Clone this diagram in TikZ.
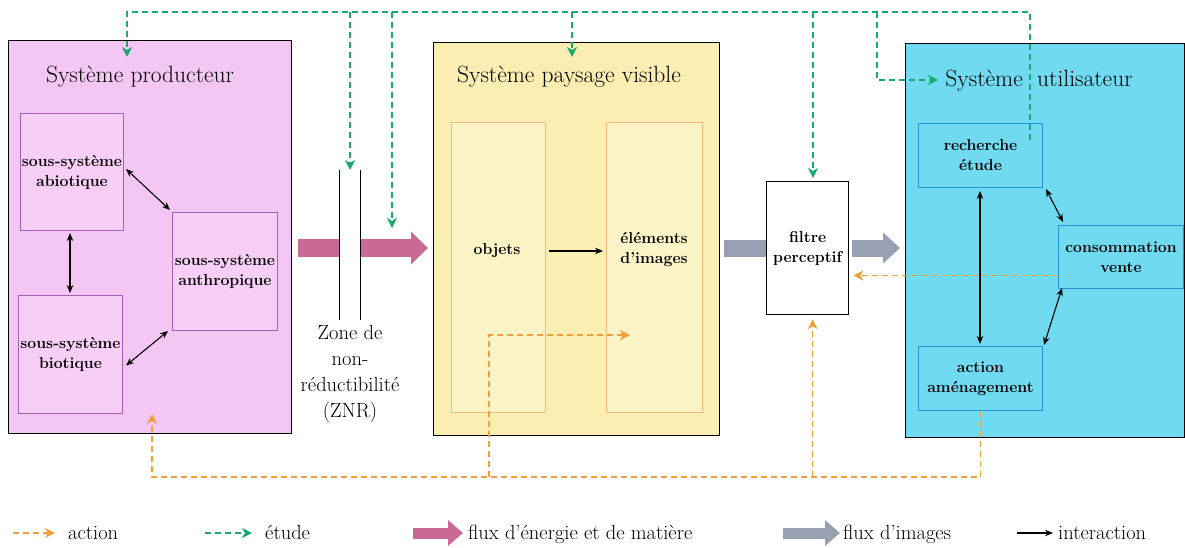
\documentclass[tikz,border=0pt]{standalone}
\usepackage{fontspec}
\usetikzlibrary{arrows.meta,calc}

\definecolor{prodfill}{RGB}{244,198,244}
\definecolor{prodinner}{RGB}{246,206,246}
\definecolor{prodline}{RGB}{165,95,185}
\definecolor{paysfill}{RGB}{251,238,178}
\definecolor{paysinner}{RGB}{252,243,198}
\definecolor{paysline}{RGB}{244,188,120}
\definecolor{utilfill}{RGB}{112,218,240}
\definecolor{utilline}{RGB}{35,150,210}
\definecolor{etudecol}{RGB}{25,170,110}
\definecolor{actioncol}{RGB}{240,160,60}
\definecolor{energycol}{RGB}{200,105,150}
\definecolor{imagecol}{RGB}{150,160,176}

\begin{document}
\begin{tikzpicture}[x=1pt,y=-1pt,
  sysbox/.style={draw=black, line width=1.3pt, anchor=north west, inner sep=0pt},
  prodsub/.style={draw=prodline, line width=1pt, fill=prodinner, anchor=north west, inner sep=0pt},
  payssub/.style={draw=paysline, line width=1.2pt, fill=paysinner, anchor=north west, inner sep=0pt},
  utilsub/.style={draw=utilline, line width=1pt, fill=utilfill, anchor=north west, inner sep=0pt},
  title/.style={font=\fontsize{23.5}{28}\selectfont, inner sep=0pt},
  sublabel/.style={font=\bfseries\fontsize{15.8}{20}\selectfont, align=center, inner sep=0pt},
  znrtext/.style={font=\fontsize{20.5}{26}\selectfont, align=center, inner sep=0pt},
  legtext/.style={font=\fontsize{20.5}{24}\selectfont, anchor=base west, inner sep=0pt},
  interact/.style={line width=1.1pt, -{Stealth[length=8pt,width=6.5pt]}},
  interact2/.style={line width=1.1pt, {Stealth[length=8pt,width=6.5pt]}-{Stealth[length=8pt,width=6.5pt]}},
  etude/.style={color=etudecol, line width=1.3pt, dash pattern=on 6pt off 4pt,
    -{Stealth[length=10pt,width=10pt,inset=3pt]}},
  actionln/.style={color=actioncol, line width=1.3pt, dash pattern=on 6pt off 4pt,
    -{Stealth[length=10pt,width=10pt,inset=3pt]}},
  energy/.style={color=energycol, line width=18pt, -{Triangle[length=17pt,width=32pt]}},
  imageflow/.style={color=imagecol, line width=17pt, -{Triangle[length=17pt,width=30pt]}},
  imagebar/.style={color=imagecol, line width=17pt},
]
\useasboundingbox (0,0) rectangle (1185,548);

% ---------- Système producteur ----------
\node[sysbox, fill=prodfill, minimum width=283pt, minimum height=393pt] (prod) at (8,40) {};
\node[title, anchor=base] at (140,83) {Système producteur};
\node[prodsub, minimum width=103pt, minimum height=117pt] (abio) at (20,113) {};
\node[prodsub, minimum width=105pt, minimum height=118pt] (anth) at (172,212) {};
\node[prodsub, minimum width=104pt, minimum height=118pt] (bio) at (18,295) {};
\node[sublabel] at (abio.center) {sous-système\\abiotique};
\node[sublabel] at (anth.center) {sous-système\\anthropique};
\node[sublabel] at (bio.center) {sous-système\\biotique};

\draw[interact2] ([shift={(2,-3)}]abio.east) -- ([shift={(-2,-2)}]anth.north west);
\draw[interact2, shorten <=2pt, shorten >=2pt] (abio.south -| 70,0) -- (bio.north -| 70,0);
\draw[interact2] ([shift={(3,11)}]bio.east) -- ([shift={(-4,0)}]anth.south west);

% ---------- Système paysage visible ----------
\node[sysbox, fill=paysfill, minimum width=286pt, minimum height=393pt] (pays) at (433,42) {};
\node[title, anchor=base] at (569,83) {Système paysage visible};
\node[payssub, minimum width=94pt, minimum height=290pt] (obj) at (451,122) {};
\node[payssub, minimum width=96pt, minimum height=290pt] (elem) at (606,122) {};
\node[sublabel] (objlab) at (497,251) {objets};
\node[sublabel] (elemlab) at (654,250) {éléments\\d'images};
\draw[interact, shorten <=3pt, shorten >=3pt] (obj.east |- objlab) -- (elem.west |- objlab);

% ---------- Filtre perceptif ----------
\node[sysbox, fill=white, minimum width=82pt, minimum height=133pt] (filt) at (766,181) {};
\node[sublabel] at (filt.center) {filtre\\perceptif};

% ---------- Système utilisateur ----------
\node[sysbox, fill=utilfill, minimum width=279pt, minimum height=394pt] (util) at (905,43) {};
\node[title, anchor=base east] at (1023,87) {Système};
\node[title, anchor=base west] at (1037,87) {utilisateur};
\node[utilsub, minimum width=124pt, minimum height=64pt] (rech) at (918,123) {};
\node[utilsub, minimum width=125pt, minimum height=63pt] (cons) at (1058,225) {};
\node[utilsub, minimum width=124pt, minimum height=64pt] (act) at (918,346) {};
\node[sublabel] at (rech.center) {recherche\\étude};
\node[sublabel] at (cons.center) {consommation\\vente};
\node[sublabel] at (act.center) {action\\aménagement};

\draw[interact2, shorten <=3pt, shorten >=2pt] (rech.south -| 980,0) -- (act.north -| 980,0);
\draw[interact2] ([shift={(3,1)}]rech.south east) -- ([shift={(5,-3)}]cons.north west);
\draw[interact2] ([shift={(4,-1)}]cons.south west) -- ([shift={(1,-1)}]act.north east);

% ---------- Flux ----------
\coordinate (flowy) at (0,248);
\draw[energy, shorten <=6pt, shorten >=5pt] (prod.east |- flowy) -- (pays.west |- flowy);
\draw[imagebar, shorten <=4pt] (pays.east |- flowy) -- (filt.west |- flowy);
\draw[imageflow, shorten <=3pt, shorten >=5pt] (filt.east |- flowy) -- (util.west |- flowy);

% ---------- Zone de non-réductibilité ----------
\node[minimum width=20pt, minimum height=150pt, inner sep=0pt] (znr) at (350,245) {};
\fill[white] (znr.west |- 0,236) rectangle (znr.east |- 0,262);
\draw[line width=1.3pt] (znr.north west) -- (znr.south west);
\draw[line width=1.3pt] (znr.north east) -- (znr.south east);
\node[znrtext, anchor=north] at ([yshift=-5pt]znr.south) {Zone de\\non-\\réductibilité\\(ZNR)};

% ---------- Étude (liaisons en vert) ----------
\coordinate (gtop) at (0,12);
\coordinate (gstart) at (1030,140);
\coordinate (gprod) at (127,57);
\coordinate (gznr) at (350,170);
\coordinate (gflux) at (392,228);
\coordinate (gpays) at (572,57);
\coordinate (gfilt) at (813,178);
\coordinate (gutil) at (938,80);
\draw[etude] (gstart) -- (gstart |- gtop) -| (gprod);
\draw[etude] (gznr |- gtop) -- (gznr);
\draw[etude] (gflux |- gtop) -- (gflux);
\draw[etude] (gpays |- gtop) -- (gpays);
\draw[etude] (gfilt |- gtop) -- (gfilt);
\draw[etude] (877,12) |- (gutil);

% ---------- Action (liaisons en orange) ----------
\coordinate (obase) at (0,477);
\coordinate (oprod) at (152,414);
\coordinate (oobj) at (489,477);
\coordinate (oimg) at (630,335);
\coordinate (ofilt) at ([xshift=5pt]filt.south);
\coordinate (ocons) at ([yshift=-18.5pt]cons.west);
\draw[actionln] (act.south) -- (act.south |- obase) -| (oprod);
\draw[actionln] (oobj) |- (oimg);
\draw[actionln, shorten >=4pt] (ofilt |- obase) -- (ofilt);
\draw[actionln, shorten >=4pt] (ocons) -- (ocons -| filt.east);

% ---------- Légende ----------
\draw[actionln] (13,533) -- (55,533);
\node[legtext] at (68,539) {action};
\draw[etude] (205,533) -- (252,533);
\node[legtext] at (265,539) {étude};
\draw[color=energycol, line width=11pt, -{Triangle[length=15pt,width=25pt]}] (413,533) -- (463,533);
\node[legtext] at (468,539) {flux d'énergie et de matière};
\draw[color=imagecol, line width=11pt, -{Triangle[length=15pt,width=25pt]}] (783,533) -- (840,533);
\node[legtext] at (843,539) {flux d'images};
\draw[interact] (1017,533) -- (1053,533);
\node[legtext] at (1058,539) {interaction};
\end{tikzpicture}
\end{document}
